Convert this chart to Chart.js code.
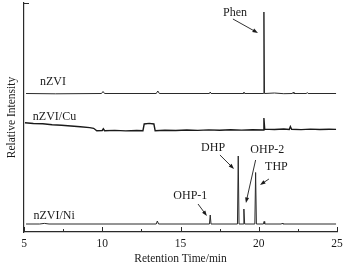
<!DOCTYPE html>
<html>
<head>
<meta charset="utf-8">
<script src="https://cdn.jsdelivr.net/npm/chart.js@4.4.1/dist/chart.umd.min.js"></script>
<style>
    html, body { margin: 0; padding: 0; background: #fff; }
</style>
</head>
<body>
<canvas id="gcChart" width="351" height="268"></canvas>
<script>
// retention time (min) / relative signal
const nzviTime = [5.13, 7.0, 9.95, 10.05, 10.15, 13.45, 13.55, 13.65, 16.85, 16.9, 16.95, 19.0, 19.05, 19.1, 20.29, 20.33, 20.37, 21.0, 21.6, 22.15, 22.2, 22.25, 23.05, 23.1, 23.15, 24.94];
const nzviSignal = [138.5, 138.2, 138.5, 140.5, 138.5, 138.5, 141, 138.5, 138.5, 140, 138.5, 138.5, 140, 138.5, 138.5, 220, 138.5, 139, 138.3, 138.5, 139.8, 138.5, 138.5, 139.5, 138.5, 138.5];

const cuTime = [5.06, 5.6, 6.2, 6.8, 7.4, 8.0, 8.6, 9.2, 9.45, 9.65, 10.0, 10.07, 10.15, 10.8, 11.5, 12.2, 12.6, 12.68, 13.0, 13.3, 13.38, 14.0, 14.7, 15.4, 16.1, 16.8, 17.5, 18.2, 18.9, 19.6, 20.28, 20.33, 20.38, 21.0, 21.6, 21.95, 22.02, 22.1, 22.7, 23.3, 23.9, 24.5, 24.94];
const cuSignal = [109.3, 108.5, 108.2, 107.3, 106.8, 106, 105.3, 104.4, 103.7, 101.3, 101.5, 103.2, 101.3, 101.6, 101.1, 101.5, 101.3, 108, 108.6, 108, 101.3, 101.8, 101.5, 102, 101.6, 102.1, 101.7, 102.2, 101.9, 102.3, 102, 114, 102.9, 102.5, 103, 102.6, 105.5, 102.7, 102.4, 102.9, 102.5, 102.8, 102.6];

const niTime = [5.13, 6.0, 6.3, 6.6, 13.45, 13.52, 13.6, 16.85, 16.9, 16.95, 18.64, 18.69, 18.74, 19.0, 19.05, 19.1, 19.75, 19.8, 19.85, 20.3, 20.34, 20.38, 21.46, 21.5, 21.54, 24.94];
const niSignal = [8, 8, 8.6, 8, 8, 11, 8, 8, 17, 8, 8, 76, 8, 8, 23, 8, 8, 59.5, 8, 8, 10.5, 8, 8, 9, 8, 8];

const majorTicks = [5, 10, 15, 20, 25];
const minorTicks = [7.5, 12.5, 17.5, 22.5];

const traceLabels = ['nZVI', 'nZVI/Cu', 'nZVI/Ni'];
const peakLabels = ['Phen', 'DHP', 'OHP-2', 'THP', 'OHP-1'];

// where the annotations sit, in data units (time, signal)
const traceLabelPos = [[6.85, 150.3], [6.95, 115.3], [6.92, 16.3]];
const peakLabelPos = [[18.48, 219], [17.08, 84], [20.55, 82], [21.13, 65.5], [15.63, 36]];
const peakArrows = [
    [[18.35, 213], [19.95, 199]],
    [[17.52, 77], [18.42, 63]],
    [[19.8, 72], [19.18, 29]],
    [[20.65, 53], [20.08, 47]],
    [[16.12, 28], [16.69, 16]]
];

const lineColor = '#2a2a2a';
const textColor = '#1a1a1a';
const fontFamily = '"Liberation Serif", "Times New Roman", serif';

function toPoints(times, values) {
    return times.map((t, i) => ({ x: t, y: values[i] }));
}

function drawArrow(ctx, x0, y0, x1, y1) {
    const ang = Math.atan2(y1 - y0, x1 - x0);
    const head = 5.5;
    const half = 2;
    ctx.beginPath();
    ctx.moveTo(x0, y0);
    ctx.lineTo(x1 - Math.cos(ang) * head * 0.8, y1 - Math.sin(ang) * head * 0.8);
    ctx.stroke();
    ctx.beginPath();
    ctx.moveTo(x1, y1);
    ctx.lineTo(x1 - Math.cos(ang) * head - Math.sin(ang) * half, y1 - Math.sin(ang) * head + Math.cos(ang) * half);
    ctx.lineTo(x1 - Math.cos(ang) * head + Math.sin(ang) * half, y1 - Math.sin(ang) * head - Math.cos(ang) * half);
    ctx.closePath();
    ctx.fill();
}

const decorPlugin = {
    id: 'decor',
    afterDatasetsDraw(chart) {
        const { ctx, chartArea } = chart;
        const x = chart.scales.x;
        const y = chart.scales.y;
        ctx.save();

        // ticks point inward
        ctx.strokeStyle = lineColor;
        ctx.lineWidth = 1;
        majorTicks.forEach(v => {
            const px = Math.round(x.getPixelForValue(v)) + 0.5;
            ctx.beginPath();
            ctx.moveTo(px, chartArea.bottom);
            ctx.lineTo(px, chartArea.bottom - 5);
            ctx.stroke();
        });
        minorTicks.forEach(v => {
            const px = Math.round(x.getPixelForValue(v)) + 0.5;
            ctx.beginPath();
            ctx.moveTo(px, chartArea.bottom);
            ctx.lineTo(px, chartArea.bottom - 3);
            ctx.stroke();
        });
        const topY = Math.round(y.getPixelForValue(y.max)) + 0.5;
        ctx.beginPath();
        ctx.moveTo(chartArea.left, topY);
        ctx.lineTo(chartArea.left + 5, topY);
        ctx.stroke();

        ctx.font = '12px ' + fontFamily;
        ctx.fillStyle = textColor;
        ctx.textAlign = 'center';
        ctx.textBaseline = 'middle';
        traceLabels.forEach((txt, i) => {
            ctx.fillText(txt, x.getPixelForValue(traceLabelPos[i][0]), y.getPixelForValue(traceLabelPos[i][1]));
        });
        peakLabels.forEach((txt, i) => {
            ctx.fillText(txt, x.getPixelForValue(peakLabelPos[i][0]), y.getPixelForValue(peakLabelPos[i][1]));
        });

        ctx.strokeStyle = textColor;
        ctx.lineWidth = 0.9;
        peakArrows.forEach(([from, to]) => {
            drawArrow(ctx,
                x.getPixelForValue(from[0]), y.getPixelForValue(from[1]),
                x.getPixelForValue(to[0]), y.getPixelForValue(to[1]));
        });
        ctx.restore();
    }
};

const traceStyle = {
    showLine: true,
    pointRadius: 0,
    borderColor: lineColor,
    borderWidth: 1,
    tension: 0
};

new Chart(document.getElementById('gcChart'), {
    type: 'scatter',
    data: {
        datasets: [
            { ...traceStyle, label: 'nZVI', data: toPoints(nzviTime, nzviSignal) },
            { ...traceStyle, label: 'nZVI/Cu', data: toPoints(cuTime, cuSignal), borderWidth: 1.4, borderColor: '#1a1a1a' },
            { ...traceStyle, label: 'nZVI/Ni', data: toPoints(niTime, niSignal) }
        ]
    },
    options: {
        responsive: false,
        animation: false,
        layout: { padding: { top: 3, right: 14, left: 0, bottom: 0 } },
        plugins: {
            legend: { display: false },
            tooltip: { enabled: false }
        },
        scales: {
            x: {
                type: 'linear',
                min: 5,
                max: 25,
                grid: { display: false, drawTicks: false },
                border: { display: true, color: lineColor, width: 1.2 },
                ticks: {
                    stepSize: 5,
                    padding: 5,
                    color: textColor,
                    font: { family: fontFamily, size: 11.5 }
                },
                title: {
                    display: true,
                    text: 'Retention Time/min',
                    color: textColor,
                    font: { family: fontFamily, size: 11.5 },
                    padding: { top: 0, bottom: 2 }
                },
                afterFit: s => { s.height = 36; }
            },
            y: {
                min: 0,
                max: 229,
                grid: { display: false, drawTicks: false },
                border: { display: true, color: lineColor, width: 1.2 },
                ticks: { display: false },
                title: {
                    display: true,
                    text: 'Relative Intensity',
                    color: textColor,
                    font: { family: fontFamily, size: 11.5 },
                    padding: { top: 5, bottom: 0 }
                },
                afterFit: s => { s.width = 24; }
            }
        }
    },
    plugins: [decorPlugin]
});
</script>
</body>
</html>
